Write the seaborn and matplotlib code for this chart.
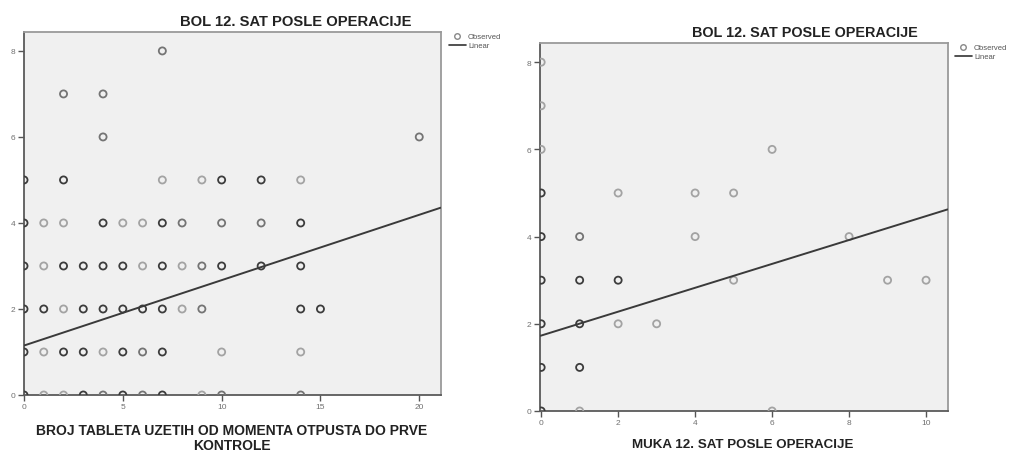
import numpy as np
import pandas as pd
import matplotlib
matplotlib.use("Agg")
import matplotlib.pyplot as plt
from matplotlib.lines import Line2D
import seaborn as sns

# ---- data -------------------------------------------------------------
# Left panel: tablets taken (x) vs pain score 12 h after surgery (y);
# n = how many cases share the same (x, y) point (overlaps draw darker)
tablets_x = [7,
             2, 4,
             4, 20,
             0, 2, 7, 9, 10, 12, 14,
             0, 1, 2, 4, 5, 6, 7, 8, 10, 12, 14,
             0, 1, 2, 3, 4, 5, 6, 7, 8, 9, 10, 12, 14,
             0, 1, 2, 3, 4, 5, 6, 7, 8, 9, 14, 15,
             0, 1, 2, 3, 4, 5, 6, 7, 10, 14,
             0, 1, 2, 3, 4, 5, 6, 7, 9, 10, 14]
tablets_pain = [8,
                7, 7,
                6, 6,
                5, 5, 5, 5, 5, 5, 5,
                4, 4, 4, 4, 4, 4, 4, 4, 4, 4, 4,
                3, 3, 3, 3, 3, 3, 3, 3, 3, 3, 3, 3, 3,
                2, 2, 2, 2, 2, 2, 2, 2, 2, 2, 2, 2,
                1, 1, 1, 1, 1, 1, 1, 1, 1, 1,
                0, 0, 0, 0, 0, 0, 0, 0, 0, 0, 0]
tablets_n = [2,
             2, 2,
             2, 2,
             3, 3, 1, 1, 3, 3, 1,
             3, 1, 1, 3, 1, 1, 3, 2, 2, 2, 3,
             3, 1, 3, 3, 3, 3, 1, 3, 1, 2, 3, 3, 3,
             3, 3, 1, 3, 3, 3, 3, 3, 1, 2, 3, 3,
             3, 1, 3, 3, 1, 3, 2, 3, 1, 1,
             3, 1, 1, 3, 2, 3, 2, 3, 1, 2, 2]
tablets_fit = (1.15, 0.152)   # intercept, slope of the linear fit

# Right panel: nausea score (x) vs pain score 12 h after surgery (y)
nausea_x = [0,
            0,
            0, 6,
            0, 2, 4, 5,
            0, 1, 4, 8,
            0, 1, 2, 5, 9, 10,
            0, 1, 2, 3,
            0, 1,
            0, 1, 6]
nausea_pain = [8,
               7,
               6, 6,
               5, 5, 5, 5,
               4, 4, 4, 4,
               3, 3, 3, 3, 3, 3,
               2, 2, 2, 2,
               1, 1,
               0, 0, 0]
nausea_n = [1,
            1,
            1, 1,
            3, 1, 1, 1,
            3, 2, 1, 1,
            3, 3, 3, 1, 1, 1,
            3, 3, 1, 1,
            3, 3,
            3, 1, 1]
nausea_fit = (1.73, 0.274)

title_text = "BOL 12. SAT POSLE OPERACIJE"
left_xlabel = "BROJ TABLETA UZETIH OD MOMENTA OTPUSTA DO PRVE\nKONTROLE"
right_xlabel = "MUKA 12. SAT POSLE OPERACIJE"
left_xticks = [0, 5, 10, 15, 20]
right_xticks = [0, 2, 4, 6, 8, 10]
yticks = [0, 2, 4, 6, 8]

# ---- style ------------------------------------------------------------
sns.set_theme(style="white")
plt.rcParams["font.family"] = ["Liberation Sans", "DejaVu Sans"]

W, H = 1022, 452
fig = plt.figure(figsize=(W / 100, H / 100), dpi=100)
fig.patch.set_facecolor("white")

shade = {1: "#a3a3a3", 2: "#747474", 3: "#3c3c3c"}


def panel(rect, xs, ys, ns, fit, xlim, xticks):
    ax = fig.add_axes(rect)
    ax.set_facecolor("#f0f0f0")
    df = pd.DataFrame({"x": xs, "y": ys, "n": ns})
    for k, col in shade.items():
        sub = df[df["n"] == k]
        sns.scatterplot(data=sub, x="x", y="y", ax=ax, marker="o", s=26,
                        facecolor="none", edgecolor=col, linewidth=1.3,
                        legend=False, zorder=3)
    xx = np.array(xlim)
    ax.plot(xx, fit[0] + fit[1] * xx, color="#3a3a3a", lw=1.4, zorder=4,
            solid_capstyle="butt")
    ax.set_xlim(*xlim)
    ax.set_ylim(0, 8.44)
    ax.set_xticks(xticks)
    ax.set_yticks(yticks)
    ax.set_xlabel("")
    ax.set_ylabel("")
    ax.tick_params(axis="both", direction="out", length=4, width=1.0,
                   color="#555555", labelsize=6, labelcolor="#707070",
                   pad=2, bottom=True, left=True)
    for side in ("left", "bottom"):
        ax.spines[side].set_color("#5a5a5a")
        ax.spines[side].set_linewidth(1.3)
    for side in ("top", "right"):
        ax.spines[side].set_color("#9a9a9a")
        ax.spines[side].set_linewidth(1.3)
    return ax


ax1 = panel([24 / W, 1 - 396 / H, 417 / W, 363 / H],
            tablets_x, tablets_pain, tablets_n, tablets_fit,
            (0, 21.1), left_xticks)
ax2 = panel([540 / W, 1 - 412 / H, 408 / W, 368 / H],
            nausea_x, nausea_pain, nausea_n, nausea_fit,
            (-0.03, 10.57), right_xticks)

# titles and axis captions
fig.text(296 / W, 1 - 22 / H, title_text, ha="center", va="center",
         fontsize=10.6, fontweight="bold", color="#222222")
fig.text(805 / W, 1 - 33 / H, title_text, ha="center", va="center",
         fontsize=10.4, fontweight="bold", color="#222222")
fig.text(232 / W, 1 - 438.5 / H, left_xlabel, ha="center", va="center",
         fontsize=10, fontweight="bold", color="#222222", linespacing=1.02)
fig.text(743 / W, 1 - 445 / H, right_xlabel, ha="center", va="center",
         fontsize=9.6, fontweight="bold", color="#222222")

# legends
handles = [Line2D([], [], marker="o", ls="none", markersize=4,
                  markerfacecolor="none", markeredgecolor="#888888",
                  markeredgewidth=1.0, label="Observed"),
           Line2D([], [], color="#333333", lw=1.2, label="Linear")]
for (lx, ly) in ((449, 34), (955, 45)):
    fig.legend(handles=handles, loc="upper left",
               bbox_to_anchor=(lx / W, 1 - ly / H), frameon=False,
               fontsize=5.5, handlelength=2.2, handletextpad=0.3,
               labelspacing=0.2, borderpad=0, borderaxespad=0,
               labelcolor="#555555")

fig.savefig("out.png", dpi=100, facecolor="white")
